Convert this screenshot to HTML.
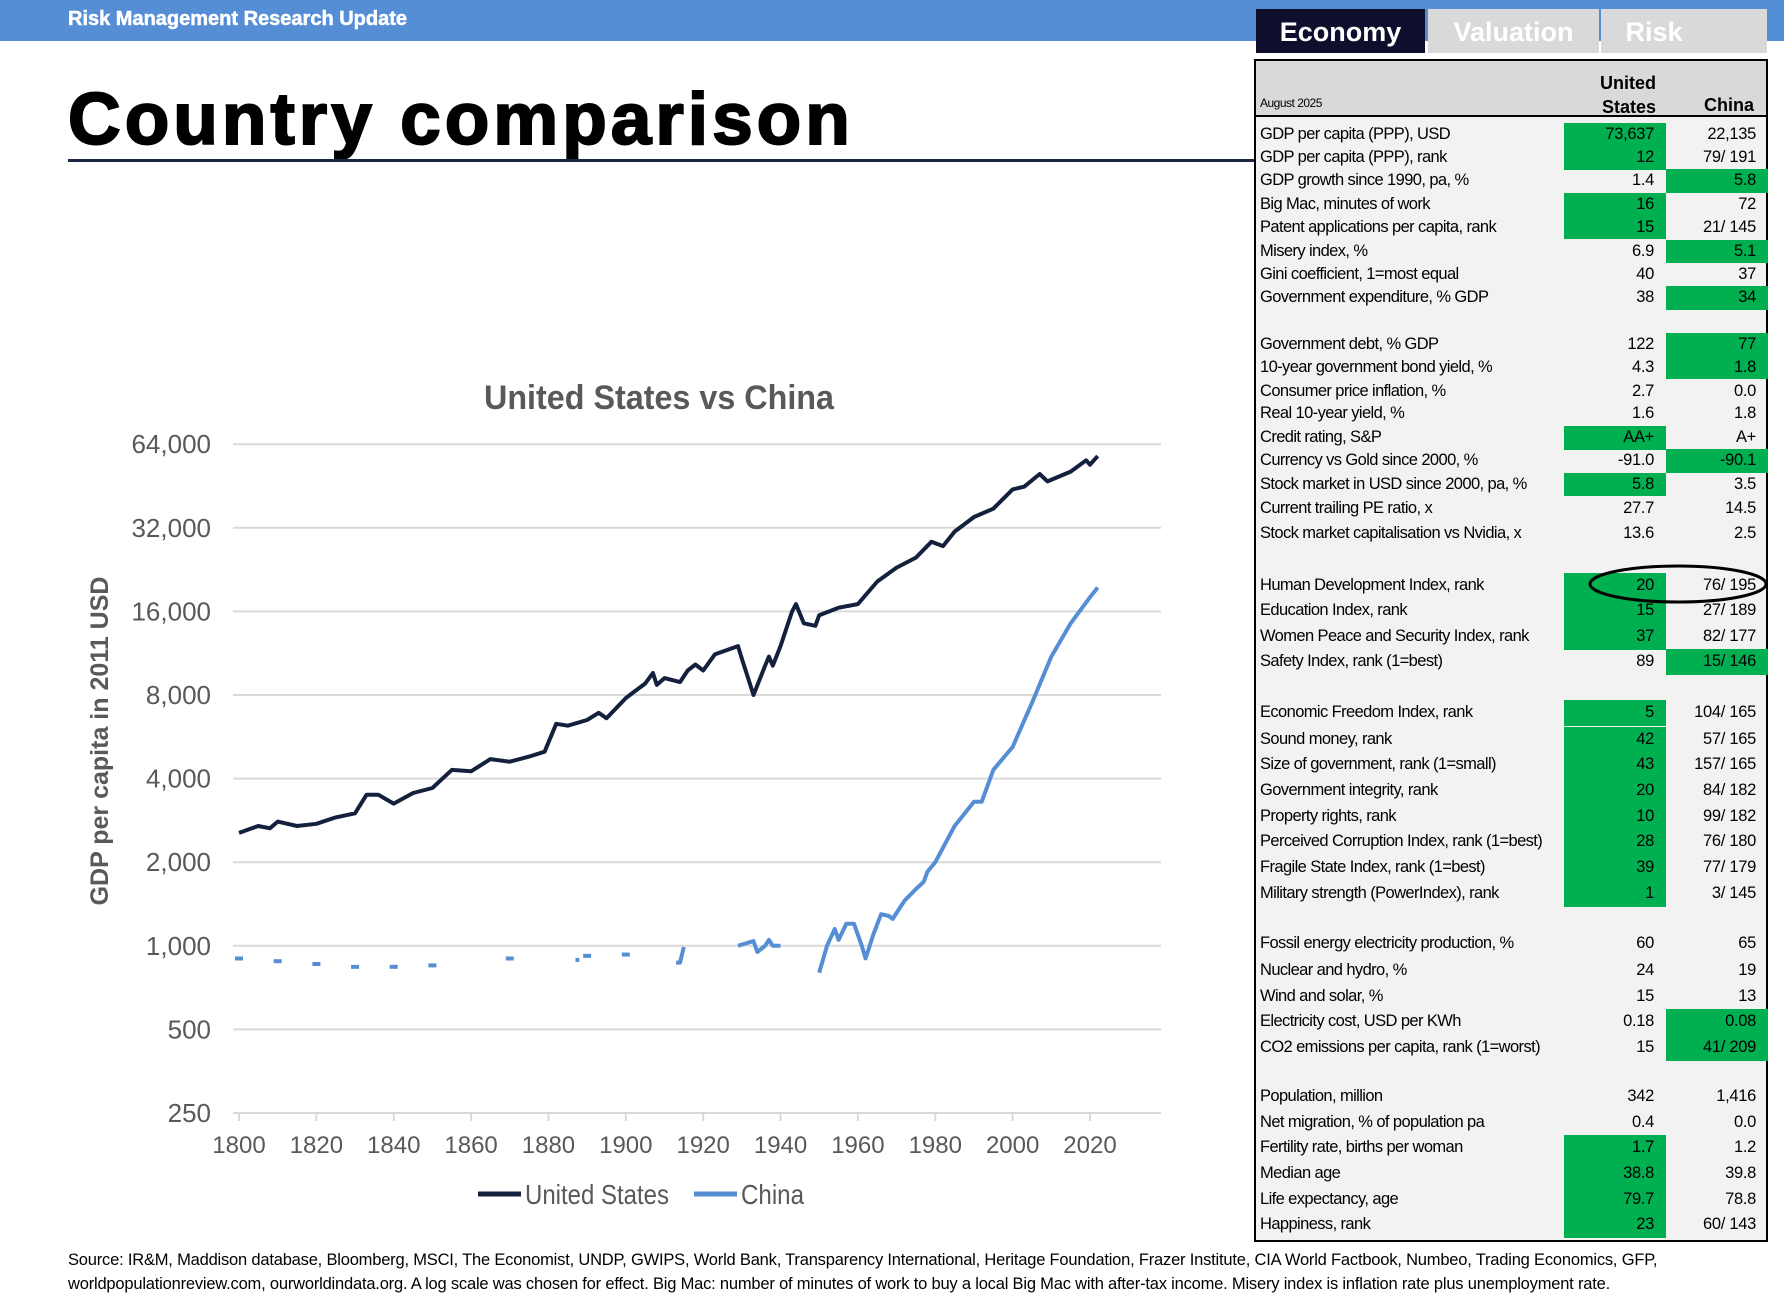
<!DOCTYPE html>
<html><head><meta charset="utf-8"><style>
body{margin:0;width:1784px;height:1303px;background:#fff;position:relative;overflow:hidden;font-family:"Liberation Sans",sans-serif}
.abs{position:absolute}
.nar{font-family:"Liberation Sans Narrow","Liberation Sans",sans-serif}
.row{position:absolute;left:0;width:510px;font-size:16.5px;color:#000}
.row .lab{position:absolute;left:4px;white-space:nowrap;letter-spacing:-0.6px}
.row .us,.row .cn{position:absolute;top:0;height:100%}
.row .us{left:308px;width:102px}
.row .cn{left:410px;width:102px}
.row span.v{position:absolute;right:12px;white-space:nowrap;letter-spacing:-0.3px}
.g{background:#00b050}
</style></head><body>
<div class="abs" style="left:0;top:0;width:1784px;height:41px;background:#558ed5"></div>
<div class="abs" style="left:68px;top:8px;color:#fff;font-weight:bold;font-size:20px;-webkit-text-stroke:0.5px #fff">Risk Management Research Update</div>
<div class="abs" style="left:68px;top:78px;font-weight:900;font-size:73px;color:#000;letter-spacing:4px;-webkit-text-stroke:2px #000">Country comparison</div>
<div class="abs" style="left:68px;top:159px;width:1188px;height:3px;background:#1a2740"></div>

<div class="abs" style="left:1256px;top:9px;width:169px;height:44px;background:#0f0f2d;color:#fff;font-weight:bold;font-size:27px;line-height:46px;text-align:center">Economy</div>
<div class="abs" style="left:1428px;top:9px;width:171px;height:44px;background:#d9d9d9;color:#fff;font-weight:bold;font-size:27px;line-height:46px;text-align:center">Valuation</div>
<div class="abs" style="left:1601px;top:9px;width:166px;height:44px;background:#d9d9d9;color:#fff;font-weight:bold;font-size:27px;line-height:46px;text-indent:-60px;text-align:center">Risk</div>

<div class="abs nar" id="tbl" style="left:1254px;top:59px;width:510px;height:1179px;border:2px solid #000;background:#f2f2f2">
 <div class="abs" style="left:0;top:0;width:510px;height:54px;background:#d9d9d9;border-bottom:2px solid #000"></div>
 <div class="abs" style="left:4px;top:35px;font-size:12px;letter-spacing:-0.5px">August 2025</div>
 <div class="abs" style="left:320px;top:10px;width:80px;text-align:right;font-weight:bold;font-size:18px;line-height:24px">United<br>States</div>
 <div class="abs" style="left:420px;top:34px;width:78px;text-align:right;font-weight:bold;font-size:18px">China</div>
</div>
<svg class="abs" style="left:1580px;top:560px" width="200" height="50"><ellipse cx="98" cy="24" rx="88" ry="18" fill="none" stroke="#000" stroke-width="3"/></svg>

<svg id="chart" class="abs" style="left:0;top:360px" width="1250" height="880"></svg>

<div class="abs" style="left:68px;top:1248px;font-size:16.5px;line-height:24px;color:#000;letter-spacing:-0.2px">Source: IR&amp;M, Maddison database, Bloomberg, MSCI, The Economist, UNDP, GWIPS, World Bank, Transparency International, Heritage Foundation, Frazer Institute, CIA World Factbook, Numbeo, Trading Economics, GFP,<br>worldpopulationreview.com, ourworldindata.org. A log scale was chosen for effect. Big Mac: number of minutes of work to buy a local Big Mac with after-tax income. Misery index is inflation rate plus unemployment rate.</div>

<script>
// ---- chart data ----
const usYears=[1800,1805,1808,1810,1815,1820,1825,1830,1833,1836,1840,1845,1850,1855,1860,1865,1870,1875,1879,1882,1885,1890,1893,1895,1900,1905,1907,1908,1910,1914,1916,1918,1920,1923,1926,1929,1930,1933,1936,1937,1938,1940,1943,1944,1946,1949,1950,1955,1960,1965,1970,1975,1979,1982,1985,1990,1995,2000,2003,2007,2009,2015,2019,2020,2022];
const usValues=[2550,2700,2650,2800,2700,2750,2900,3000,3500,3500,3250,3550,3700,4300,4250,4700,4600,4800,5000,6300,6200,6500,6900,6600,7800,8800,9600,8700,9200,8900,9800,10300,9800,11200,11600,12000,10800,8000,10200,11000,10200,12000,16000,17000,14500,14200,15500,16500,17000,20500,23000,25000,28500,27500,31000,35000,37500,44000,45000,50000,47000,51000,56000,54000,58000];
const cnYears=[1800,1810,1820,1830,1840,1850,1870,1887,1888,1890,1900,1913,1914,1915,1929,1931,1933,1934,1936,1937,1938,1940,1950,1952,1954,1955,1957,1959,1961,1962,1964,1966,1968,1969,1972,1975,1977,1978,1980,1985,1990,1992,1995,2000,2005,2010,2015,2020,2022];
const cnValues=[900,880,860,840,840,850,900,890,890,920,930,870,870,990,1000,1020,1040,950,1000,1050,1000,1000,800,1000,1150,1050,1200,1200,1000,900,1100,1300,1280,1250,1450,1600,1700,1850,2000,2700,3300,3300,4300,5200,7500,11000,14500,18000,19500];
const cnSeg=[0,1,2,3,4,5,6,7,7,8,9,10,10,10,11,11,11,11,11,11,11,11,12,12,12,12,12,12,12,12,12,12,12,12,12,12,12,12,12,12,12,12,12,12,12,12,12,12,12];
const yTicks=[250,500,1000,2000,4000,8000,16000,32000,64000];
const yTickLabels=["250","500","1,000","2,000","4,000","8,000","16,000","32,000","64,000"];
const xTicks=[1800,1820,1840,1860,1880,1900,1920,1940,1960,1980,2000,2020];

const S=document.getElementById('chart');const NS='http://www.w3.org/2000/svg';
function el(t,a,txt){const e=document.createElementNS(NS,t);for(const k in a)e.setAttribute(k,a[k]);if(txt!=null)e.textContent=txt;S.appendChild(e);return e;}
const x=yr=>239+(yr-1800)*(1090-239)/220;
const y=v=>753-Math.log2(v/250)*83.6;
const NF='"Liberation Sans Narrow","Liberation Sans",sans-serif';
let t=el('text',{x:484,y:49,'font-size':34,'font-weight':'bold',fill:'#595959','font-family':NF,textLength:350,lengthAdjust:'spacingAndGlyphs'},'United States vs China');

yTicks.forEach((v,i)=>{
 let g=el('line',{x1:233,x2:1161,y1:y(v),y2:y(v),stroke:'#d9d9d9','stroke-width':2});
 
 let l=el('text',{x:211,y:y(v)+9,'text-anchor':'end','font-size':26,fill:'#595959','font-family':NF},yTickLabels[i]);
 
});
xTicks.forEach(yr=>{
 let tk=el('line',{x1:x(yr),x2:x(yr),y1:y(250),y2:y(250)+8,stroke:'#d9d9d9','stroke-width':2});
 
 let l=el('text',{x:x(yr),y:793,'text-anchor':'middle','font-size':24,fill:'#595959','font-family':NF},String(yr));
 
});
let yt=el('text',{transform:'translate(108,381) rotate(-90)','text-anchor':'middle','font-size':25,'font-weight':'bold',fill:'#595959'},'GDP per capita in 2011 USD');

let usPath=el('path',{d:usYears.map((yr,i)=>(i?'L':'M')+x(yr).toFixed(1)+','+y(usValues[i]).toFixed(1)).join(''),fill:'none',stroke:'#14213d','stroke-width':4,'stroke-linejoin':'round'});

const segs={};cnYears.forEach((yr,i)=>{(segs[cnSeg[i]]=segs[cnSeg[i]]||[]).push([yr,cnValues[i]]);});
Object.values(segs).forEach(pts=>{
 let d;
 if(pts.length===1){const px=x(pts[0][0]),py=y(pts[0][1]);d='M'+(px-4)+','+py+'L'+(px+4)+','+py;}
 else d=pts.map((p,i)=>(i?'L':'M')+x(p[0]).toFixed(1)+','+y(p[1]).toFixed(1)).join('');
 let p=el('path',{d,fill:'none',stroke:'#558ed5','stroke-width':4,'stroke-linejoin':'round'});
 
});
let l1=el('line',{x1:478,x2:521,y1:834,y2:834,stroke:'#14213d','stroke-width':5});

let lt1=el('text',{x:525,y:844,'font-size':28,fill:'#595959','font-family':NF,textLength:144,lengthAdjust:'spacingAndGlyphs'},'United States');

let l2=el('line',{x1:694,x2:737,y1:834,y2:834,stroke:'#558ed5','stroke-width':5});

let lt2=el('text',{x:741,y:844,'font-size':28,fill:'#595959','font-family':NF,textLength:63,lengthAdjust:'spacingAndGlyphs'},'China');


// ---- table ----
const rows=[
["GDP per capita (PPP), USD","73,637","22,135",118,1,0],
["GDP per capita (PPP), rank","12","79/ 191",139,1,0],
["GDP growth since 1990, pa, %","1.4","5.8",159,0,1],
["Big Mac, minutes of work","16","72",180,1,0],
["Patent applications per capita, rank","15","21/ 145",200,1,0],
["Misery index, %","6.9","5.1",221,0,1],
["Gini coefficient, 1=most equal","40","37",241,0,0],
["Government expenditure, % GDP","38","34",262,0,1],
["Government debt, % GDP","122","77",303,0,1],
["10-year government bond yield, %","4.3","1.8",323,0,1],
["Consumer price inflation, %","2.7","0.0",344,0,0],
["Real 10-year yield, %","1.6","1.8",364,0,0],
["Credit rating, S&P","AA+","A+",385,1,0],
["Currency vs Gold since 2000, %","-91.0","-90.1",405,0,1],
["Stock market in USD since 2000, pa, %","5.8","3.5",426,1,0],
["Current trailing PE ratio, x","27.7","14.5",447,0,0],
["Stock market capitalisation vs Nvidia, x","13.6","2.5",469,0,0],
["Human Development Index, rank","20","76/ 195",515,1,0],
["Education Index, rank","15","27/ 189",537,1,0],
["Women Peace and Security Index, rank","37","82/ 177",560,1,0],
["Safety Index, rank (1=best)","89","15/ 146",582,0,1],
["Economic Freedom Index, rank","5","104/ 165",627,1,0],
["Sound money, rank","42","57/ 165",650,1,0],
["Size of government, rank (1=small)","43","157/ 165",672,1,0],
["Government integrity, rank","20","84/ 182",695,1,0],
["Property rights, rank","10","99/ 182",718,1,0],
["Perceived Corruption Index, rank (1=best)","28","76/ 180",740,1,0],
["Fragile State Index, rank (1=best)","39","77/ 179",763,1,0],
["Military strength (PowerIndex), rank","1","3/ 145",786,1,0],
["Fossil energy electricity production, %","60","65",830,0,0],
["Nuclear and hydro, %","24","19",853,0,0],
["Wind and solar, %","15","13",876,0,0],
["Electricity cost, USD per KWh","0.18","0.08",898,0,1],
["CO2 emissions per capita, rank (1=worst)","15","41/ 209",921,0,1],
["Population, million","342","1,416",964,0,0],
["Net migration, % of population pa","0.4","0.0",987,0,0],
["Fertility rate, births per woman","1.7","1.2",1009,1,0],
["Median age","38.8","39.8",1032,1,0],
["Life expectancy, age","79.7","78.8",1055,1,0],
["Happiness, rank","23","60/ 143",1077,1,0]];
const T=document.getElementById('tbl');const sc=1.1378;
rows.forEach((r,i)=>{
 const h=(i<8?20.5:(i<17?20.7:22.7))*sc;
 const cy=r[3]*sc-61;
 const d=document.createElement('div');d.className='row';
 
 d.style.top=(cy-h/2)+'px';d.style.height=h+'px';d.style.lineHeight=h+'px';
 d.innerHTML='<span class="lab"></span><div class="us'+(r[4]?' g':'')+'"><span class="v"></span></div><div class="cn'+(r[5]?' g':'')+'"><span class="v"></span></div>';
 d.querySelector('.lab').textContent=r[0];
 d.querySelector('.us .v').textContent=r[1];
 d.querySelector('.cn .v').textContent=r[2];
 T.appendChild(d);
});
</script>
</body></html>
